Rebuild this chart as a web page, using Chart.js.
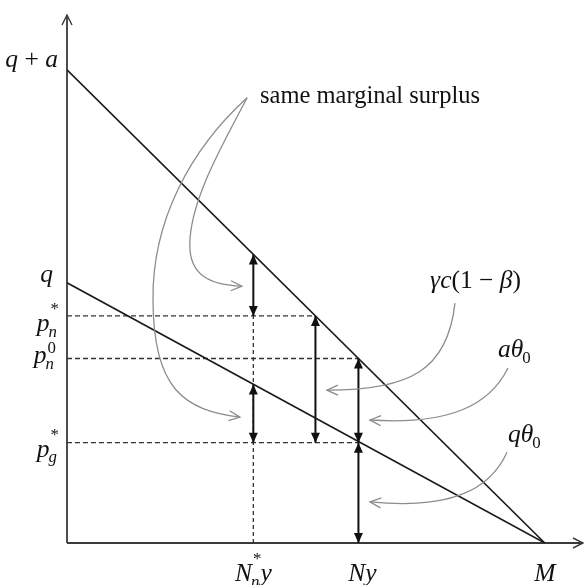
<!DOCTYPE html>
<html>
<head>
<meta charset="utf-8">
<script src="https://cdn.jsdelivr.net/npm/chart.js@4.4.0/dist/chart.umd.min.js"></script>
<style>
  html, body { margin: 0; padding: 0; background: #fff; }
  #chart { display: block; }
</style>
</head>
<body>
<canvas id="chart" width="584" height="585"></canvas>
<script>
// diagram values in abstract units (x: quantity, y: price)
const xMax = 10.8;
const yMax = 11.16;
const lineX = [0, 10];                  // 0 .. M
const upperY = [10, 0];                 // q + a .. 0
const lowerY = [5.5, 0];                // q .. 0
const priceLevels = [4.8, 3.9, 2.12];   // p_n*, p_n^0, p_g*
const priceEnds = [5.2, 6.1, 6.1];
const quantities = [3.9, 6.1, 10];      // N_n* y, Ny, M
const arrowX = [3.9, 3.9, 5.2, 6.1, 6.1];
const arrowTop = [6.1, 3.35, 4.8, 3.9, 2.12];
const arrowBottom = [4.8, 2.12, 2.12, 2.12, 0];

// gray pointer curves, cubic segments (start, c1, c2, end, c1, c2, end ...)
const curveSameLow = [[3.77, 9.41], [2.57, 8.31], [1.78, 6.79], [1.80, 5.14], [1.80, 3.23], [2.47, 2.81], [3.62, 2.66]];
const curveSameHigh = [[3.77, 9.41], [3.31, 8.52], [2.57, 7.25], [2.57, 6.30], [2.57, 5.66], [2.99, 5.45], [3.66, 5.43]];
const curveGamma = [[8.12, 5.07], [7.97, 3.66], [7.18, 3.23], [5.44, 3.23]];
const curveA = [[9.23, 3.70], [8.85, 2.92], [8.02, 2.49], [6.34, 2.60]];
const curveQ = [[9.21, 1.92], [8.85, 1.12], [8.02, 0.70], [6.34, 0.87]];
const curves = [curveSameLow, curveSameHigh, curveGamma, curveA, curveQ];

const FONT = '"Liberation Serif", "DejaVu Serif", serif';
const SIZE = 25.5;
const SCRIPT = 0.66;

function fontFor(size, italic) {
  return (italic ? 'italic ' : '') + size + 'px ' + FONT;
}

function mathWidth(ctx, items, size) {
  let w = 0;
  items.forEach((it) => {
    ctx.font = fontFor(size, it.it);
    w += ctx.measureText(it.t).width;
    let sw = 0;
    if (it.sub) {
      ctx.font = fontFor(size * SCRIPT, it.subIt);
      sw = Math.max(sw, ctx.measureText(it.sub).width);
    }
    if (it.sup) {
      ctx.font = fontFor(size * SCRIPT, false);
      sw = Math.max(sw, ctx.measureText(it.sup).width);
    }
    w += sw;
  });
  return w;
}

function drawMath(ctx, items, x, y, size, align) {
  const w = mathWidth(ctx, items, size);
  let cx = align === 'right' ? x - w : align === 'center' ? x - w / 2 : x;
  ctx.textAlign = 'left';
  ctx.textBaseline = 'alphabetic';
  items.forEach((it) => {
    ctx.font = fontFor(size, it.it);
    ctx.fillText(it.t, cx, y);
    cx += ctx.measureText(it.t).width;
    let sw = 0;
    if (it.sub) {
      ctx.font = fontFor(size * SCRIPT, it.subIt);
      ctx.fillText(it.sub, cx - (it.it ? 1 : 0), y + size * 0.22);
      sw = Math.max(sw, ctx.measureText(it.sub).width);
    }
    if (it.sup) {
      ctx.font = fontFor(size * SCRIPT, false);
      const lift = it.sup === '*' ? size * 0.42 + 6 : size * 0.42;
      ctx.fillText(it.sup, cx + (it.it ? 1 : 0), y - lift);
      sw = Math.max(sw, ctx.measureText(it.sup).width);
    }
    cx += sw;
  });
}

function solidHead(ctx, x, y, dx, dy) {
  const L = 10, W = 4.5;
  ctx.beginPath();
  ctx.moveTo(x, y);
  ctx.lineTo(x - dx * L - dy * W, y - dy * L + dx * W);
  ctx.lineTo(x - dx * L + dy * W, y - dy * L - dx * W);
  ctx.closePath();
  ctx.fill();
}

function openHead(ctx, x, y, dx, dy, L, W) {
  ctx.beginPath();
  ctx.moveTo(x - dx * L - dy * W, y - dy * L + dx * W);
  ctx.lineTo(x, y);
  ctx.lineTo(x - dx * L + dy * W, y - dy * L - dx * W);
  ctx.stroke();
}

const diagramPlugin = {
  id: 'diagram',
  beforeDatasetsDraw(chart) {
    const { ctx, chartArea, scales } = chart;
    const x0 = scales.x.getPixelForValue(0);
    const y0 = scales.y.getPixelForValue(0);
    ctx.save();
    ctx.strokeStyle = '#3a3a3a';
    ctx.lineWidth = 1.8;
    ctx.beginPath();
    ctx.moveTo(x0, y0);
    ctx.lineTo(x0, chartArea.top);
    ctx.moveTo(x0, y0);
    ctx.lineTo(chartArea.right, y0);
    ctx.stroke();
    ctx.lineWidth = 1.4;
    openHead(ctx, x0, chartArea.top, 0, -1, 10, 5);
    openHead(ctx, chartArea.right, y0, 1, 0, 10, 5);
    ctx.restore();
  },
  afterDatasetsDraw(chart) {
    const { ctx, scales } = chart;
    const px = (v) => scales.x.getPixelForValue(v);
    const py = (v) => scales.y.getPixelForValue(v);
    ctx.save();

    // arrow heads on the double arrows
    ctx.fillStyle = '#111';
    chart.data.datasets.forEach((ds, i) => {
      if (!ds.arrow) return;
      const pts = chart.getDatasetMeta(i).data;
      const a = pts[0], b = pts[pts.length - 1];
      solidHead(ctx, a.x, a.y, 0, -1);
      solidHead(ctx, b.x, b.y, 0, 1);
    });

    // gray pointer curves
    ctx.strokeStyle = '#8c8c8c';
    ctx.lineWidth = 1.3;
    curves.forEach((c) => {
      ctx.beginPath();
      ctx.moveTo(px(c[0][0]), py(c[0][1]));
      for (let k = 1; k + 2 < c.length; k += 3) {
        ctx.bezierCurveTo(px(c[k][0]), py(c[k][1]), px(c[k + 1][0]), py(c[k + 1][1]), px(c[k + 2][0]), py(c[k + 2][1]));
      }
      ctx.stroke();
      const e = c[c.length - 1], p = c[c.length - 2];
      const ex = px(e[0]), ey = py(e[1]);
      let dx = ex - px(p[0]), dy = ey - py(p[1]);
      const len = Math.hypot(dx, dy);
      openHead(ctx, ex, ey, dx / len, dy / len, 11, 5);
    });

    // labels
    ctx.fillStyle = '#111';
    const axisX = px(0) - 9;
    drawMath(ctx, [{ t: 'q', it: true }, { t: ' + ' }, { t: 'a', it: true }], axisX, py(upperY[0]) - 3, SIZE, 'right');
    drawMath(ctx, [{ t: 'q', it: true }], axisX - 5, py(lowerY[0]) - 1, SIZE, 'right');
    drawMath(ctx, [{ t: 'p', it: true, sub: 'n', subIt: true, sup: '*' }], axisX, py(priceLevels[0]) + 15, SIZE, 'right');
    drawMath(ctx, [{ t: 'p', it: true, sub: 'n', subIt: true, sup: '0' }], axisX - 3, py(priceLevels[1]) + 5, SIZE, 'right');
    drawMath(ctx, [{ t: 'p', it: true, sub: 'g', subIt: true, sup: '*' }], axisX, py(priceLevels[2]) + 14, SIZE, 'right');

    const baseY = py(0) + 38;
    drawMath(ctx, [{ t: 'N', it: true, sub: 'n', subIt: true, sup: '*' }, { t: 'y', it: true }], px(quantities[0]), baseY, SIZE, 'center');
    drawMath(ctx, [{ t: 'Ny', it: true }], px(quantities[1]) + 4, baseY, SIZE, 'center');
    drawMath(ctx, [{ t: 'M', it: true }], px(quantities[2]), baseY, SIZE, 'center');

    ctx.font = fontFor(24.5, false);
    ctx.textAlign = 'left';
    ctx.fillText('same marginal surplus', px(4.04), py(9.30));
    drawMath(ctx, [{ t: 'γc', it: true }, { t: '(1 − ' }, { t: 'β', it: true }, { t: ')' }], px(7.60), py(5.39), SIZE, 'left');
    drawMath(ctx, [{ t: 'aθ', it: true, sub: '0' }], px(9.02), py(3.93), SIZE, 'left');
    drawMath(ctx, [{ t: 'qθ', it: true, sub: '0' }], px(9.23), py(2.13), SIZE, 'left');

    ctx.restore();
  },
};

const arrowSets = arrowX.map((x, i) => ({
  data: [{ x, y: arrowTop[i] }, { x, y: arrowBottom[i] }],
  borderColor: '#111',
  borderWidth: 2,
  arrow: true,
}));

const dashedSets = priceLevels.map((p, i) => ({
  data: [{ x: 0, y: p }, { x: priceEnds[i], y: p }],
  borderColor: '#333',
  borderWidth: 1.3,
  borderDash: [5, 3],
}));

new Chart(document.getElementById('chart'), {
  type: 'scatter',
  data: {
    datasets: [
      ...arrowSets,
      {
        data: lineX.map((x, i) => ({ x, y: upperY[i] })),
        borderColor: '#1a1a1a',
        borderWidth: 1.6,
      },
      {
        data: lineX.map((x, i) => ({ x, y: lowerY[i] })),
        borderColor: '#1a1a1a',
        borderWidth: 1.6,
      },
      ...dashedSets,
      {
        data: [{ x: quantities[0], y: 0 }, { x: quantities[0], y: priceLevels[0] }],
        borderColor: '#333',
        borderWidth: 1.3,
        borderDash: [4, 3],
      },
    ],
  },
  options: {
    responsive: false,
    animation: false,
    showLine: true,
    layout: { padding: { left: 67, top: 15, right: 1, bottom: 42 } },
    elements: { point: { radius: 0, hoverRadius: 0 }, line: { tension: 0 } },
    scales: {
      x: { type: 'linear', min: 0, max: xMax, display: false },
      y: { type: 'linear', min: 0, max: yMax, display: false },
    },
    plugins: { legend: { display: false }, tooltip: { enabled: false } },
  },
  plugins: [diagramPlugin],
});
</script>
</body>
</html>
